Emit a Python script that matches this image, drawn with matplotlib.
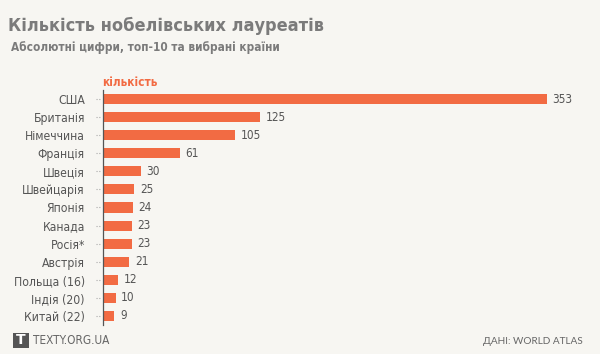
import matplotlib
matplotlib.use("Agg")
import matplotlib.pyplot as plt
import matplotlib.transforms as mtransforms
from matplotlib.patches import Rectangle

countries = ["США", "Британія", "Німеччина", "Франція", "Швеція", "Швейцарія",
             "Японія", "Канада", "Росія*", "Австрія", "Польща (16)", "Індія (20)", "Китай (22)"]
values = [353, 125, 105, 61, 30, 25, 24, 23, 23, 21, 12, 10, 9]

title = "Кількість нобелівських лауреатів"
subtitle = "Абсолютні цифри, топ-10 та вибрані країни"
axis_title = "кількість"
source = "ДАНІ: WORLD ATLAS"
brand = "TEXTY.ORG.UA"

BG = "#f7f6f2"
BAR = "#f26b43"
GRAY = "#7b7b7b"
TXT = "#555555"
FAM = "DejaVu Sans"
ST = "condensed"

W, H = 600, 354
fig = plt.figure(figsize=(W / 100, H / 100), dpi=100, facecolor=BG)

ax = fig.add_axes([103 / W, (H - 325) / H, 457 / W, 235 / H])
ax.set_facecolor(BG)
y = list(range(len(countries)))
ax.barh(y, values, height=0.56, color=BAR)
ax.set_xlim(0, 457 / 1.258)
ax.set_ylim(len(countries) - 0.5, -0.5)
for s in ["top", "right", "bottom"]:
    ax.spines[s].set_visible(False)
ax.spines["left"].set_color("#555555")
ax.spines["left"].set_linewidth(0.9)
ax.set_xticks([])
ax.set_yticks(y)
ax.set_yticklabels(countries, fontsize=8.7, color=TXT, family=FAM, fontstretch=ST)
ax.tick_params(axis="y", length=0, pad=13)

trans = mtransforms.blended_transform_factory(ax.transAxes, ax.transData)
for i in y:
    ax.plot([-0.015, -0.004], [i, i], transform=trans, ls=(0, (1, 1.5)), color="#aaaaaa",
            lw=0.8, clip_on=False)

for i, v in zip(y, values):
    ax.annotate(str(v), (v, i), xytext=(4, 0), textcoords="offset points",
                va="center", ha="left", fontsize=8.5, color=TXT,
                family=FAM, fontstretch=ST)

fig.text(8 / W, 1 - 26 / H, title, fontsize=13, fontweight="bold", color=GRAY,
         va="center", ha="left", family=FAM, fontstretch=ST)
fig.text(11 / W, 1 - 48 / H, subtitle, fontsize=8.5, fontweight="bold", color=GRAY,
         va="center", ha="left", family=FAM, fontstretch=ST)
fig.text(102 / W, 1 - 82 / H, axis_title, fontsize=8.5, fontweight="bold", color=BAR,
         va="center", ha="left", family=FAM, fontstretch=ST)

# footer
fig.patches.append(Rectangle((13 / W, 1 - 348 / H), 16 / W, 15 / H, transform=fig.transFigure,
                             facecolor="#555555", edgecolor="none"))
fig.text(21 / W, 1 - 340.5 / H, "T", fontsize=10, fontweight="bold", color="white",
         va="center", ha="center", family=FAM)
fig.text(33 / W, 1 - 341 / H, brand, fontsize=8.5, color="#666666", va="center", ha="left",
         family=FAM, fontstretch=ST)
fig.text(583 / W, 1 - 341 / H, source, fontsize=7.2, color="#666666", va="center", ha="right",
         family=["Lato", "DejaVu Sans"])

fig.savefig("out.png", dpi=100, facecolor=BG)
